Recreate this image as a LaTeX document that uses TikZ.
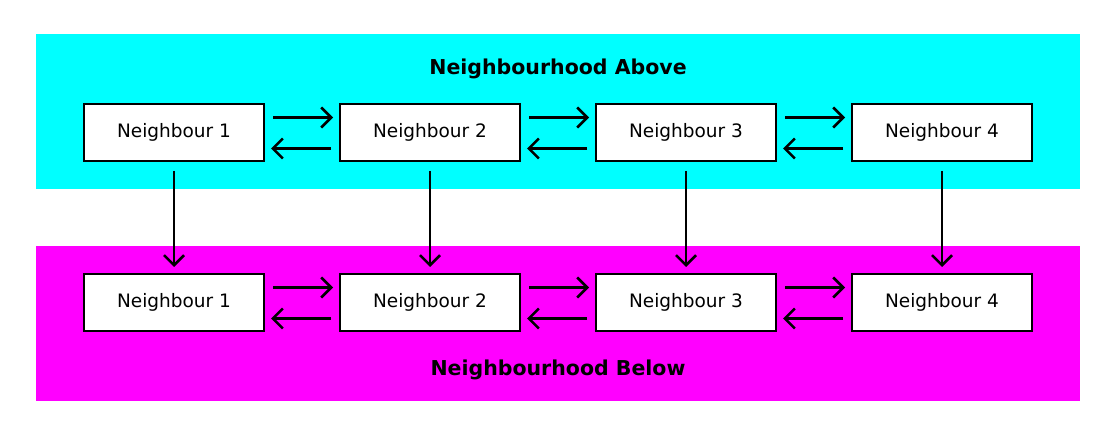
\documentclass[tikz,border=0pt]{standalone}
\usepackage{fontspec}
\setmainfont{DejaVu Sans}
\usetikzlibrary{arrows.meta}
\definecolor{hoodcyan}{RGB}{0,255,255}
\definecolor{hoodmagenta}{RGB}{255,0,255}
\tikzset{
  nbox/.style={draw,line width=2pt,fill=white,minimum width=180pt,minimum height=57pt,inner sep=0pt,font=\fontsize{18.5}{20}\selectfont},
  hoodtitle/.style={font=\fontsize{20.5}{22}\selectfont\bfseries},
  link/.style={line width=2.5pt,-{Straight Barb[length=10pt,width=20pt,line width=2.5pt]}}
}
\begin{document}
\begin{tikzpicture}[x=1pt,y=-1pt]
  \useasboundingbox (0,0) rectangle (1116,435);
  % the two neighbourhoods
  \fill[hoodcyan] (36,34) rectangle (1080,189);
  \fill[hoodmagenta] (36,246) rectangle (1080,401);
  \node[hoodtitle](above)at(558,68.5){Neighbourhood Above};
  \node[hoodtitle](below)at(558,369.5){Neighbourhood Below};
  % upper row
  \node[nbox](a1)at(174,132.5){Neighbour 1};
  \node[nbox](a2)at(430,132.5){Neighbour 2};
  \node[nbox](a3)at(686,132.5){Neighbour 3};
  \node[nbox](a4)at(942,132.5){Neighbour 4};
  % lower row
  \node[nbox](b1)at(174,302.5){Neighbour 1};
  \node[nbox](b2)at(430,302.5){Neighbour 2};
  \node[nbox](b3)at(686,302.5){Neighbour 3};
  \node[nbox](b4)at(942,302.5){Neighbour 4};
  % sideways links
  \draw[link,shorten <=8pt,shorten >=6pt] ([yshift=15pt]a1.east) -- ([yshift=15pt]a2.west);
  \draw[link,shorten <=8pt,shorten >=6pt] ([yshift=-16pt]a2.west) -- ([yshift=-16pt]a1.east);
  \draw[link,shorten <=8pt,shorten >=6pt] ([yshift=15pt]a2.east) -- ([yshift=15pt]a3.west);
  \draw[link,shorten <=8pt,shorten >=6pt] ([yshift=-16pt]a3.west) -- ([yshift=-16pt]a2.east);
  \draw[link,shorten <=8pt,shorten >=6pt] ([yshift=15pt]a3.east) -- ([yshift=15pt]a4.west);
  \draw[link,shorten <=8pt,shorten >=6pt] ([yshift=-16pt]a4.west) -- ([yshift=-16pt]a3.east);
  \draw[link,shorten <=8pt,shorten >=6pt] ([yshift=15pt]b1.east) -- ([yshift=15pt]b2.west);
  \draw[link,shorten <=8pt,shorten >=6pt] ([yshift=-16pt]b2.west) -- ([yshift=-16pt]b1.east);
  \draw[link,shorten <=8pt,shorten >=6pt] ([yshift=15pt]b2.east) -- ([yshift=15pt]b3.west);
  \draw[link,shorten <=8pt,shorten >=6pt] ([yshift=-16pt]b3.west) -- ([yshift=-16pt]b2.east);
  \draw[link,shorten <=8pt,shorten >=6pt] ([yshift=15pt]b3.east) -- ([yshift=15pt]b4.west);
  \draw[link,shorten <=8pt,shorten >=6pt] ([yshift=-16pt]b4.west) -- ([yshift=-16pt]b3.east);
  % downward links
  \draw[link,shorten <=9pt,shorten >=6pt] (a1.south) -- (b1.north);
  \draw[link,shorten <=9pt,shorten >=6pt] (a2.south) -- (b2.north);
  \draw[link,shorten <=9pt,shorten >=6pt] (a3.south) -- (b3.north);
  \draw[link,shorten <=9pt,shorten >=6pt] (a4.south) -- (b4.north);
\end{tikzpicture}
\end{document}
